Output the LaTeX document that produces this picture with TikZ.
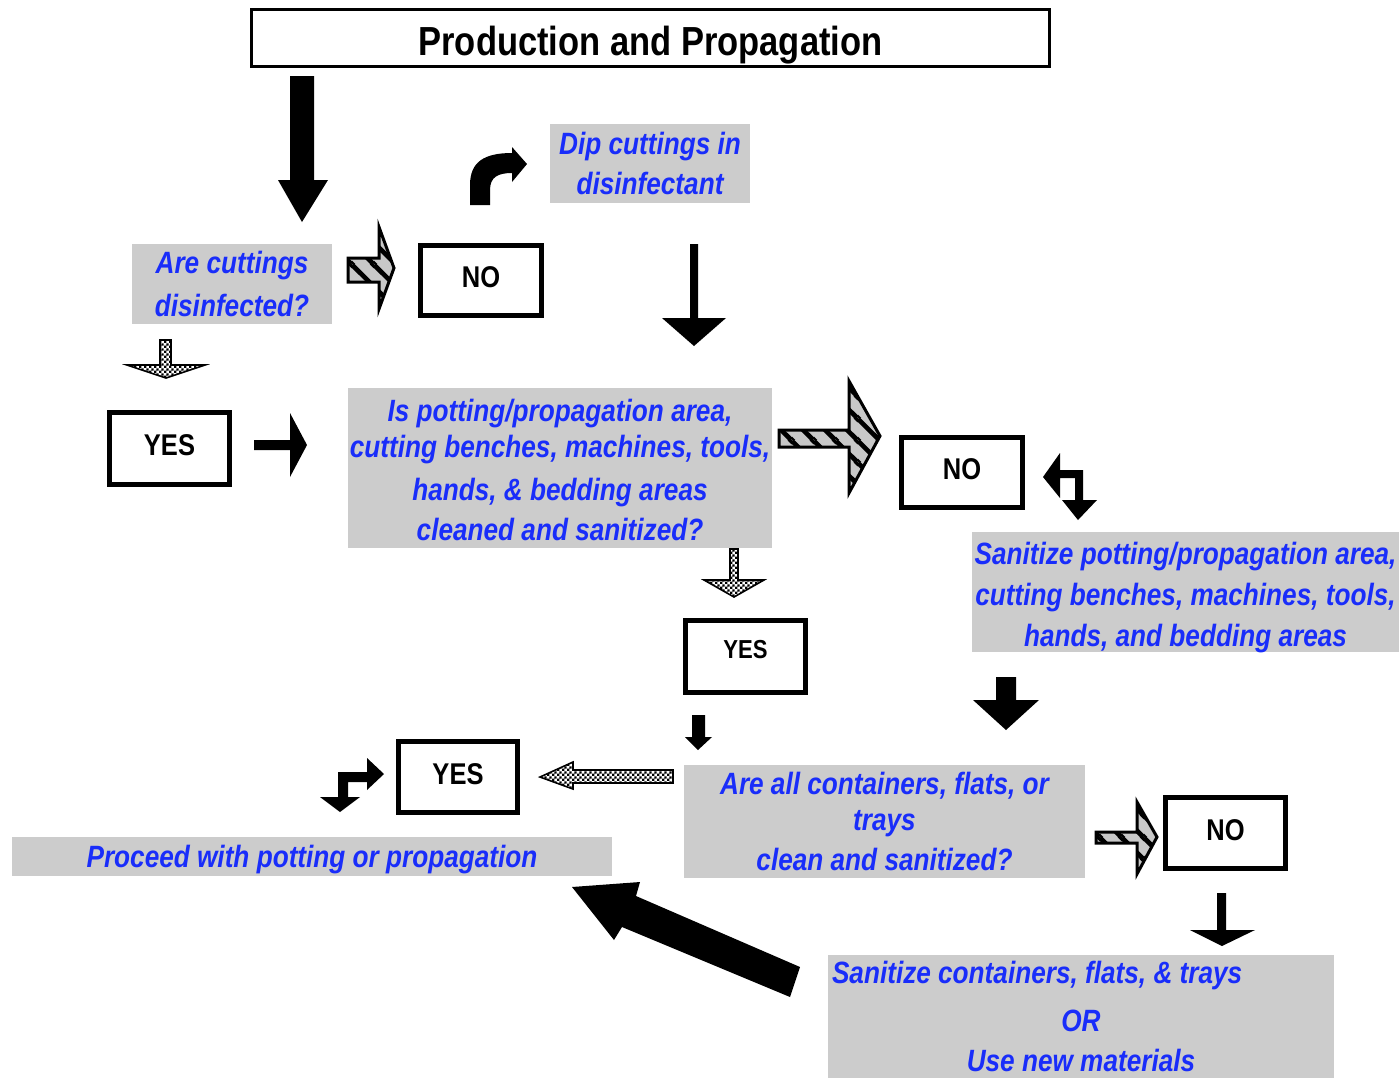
\documentclass[tikz,border=0pt]{standalone}
\usepackage{fontspec}
\setmainfont{Liberation Sans}[FakeStretch=0.85]
\usetikzlibrary{patterns.meta}
\definecolor{tblue}{RGB}{25,45,250}
\definecolor{bgray}{RGB}{204,204,204}
\definecolor{hgray}{RGB}{200,200,200}
\newcommand\shiftline[2]{\raisebox{#1}[\height][\depth]{#2}}
\tikzdeclarepattern{
  name=hstripes,
  type=uncolored,
  bottom left={(0pt,0pt)},
  top right={(11pt,11pt)},
  tile size={(11pt,11pt)},
  code={\draw[line width=2.4pt] (0pt,11pt)--(11pt,0pt) (-1pt,1pt)--(1pt,-1pt) (10pt,12pt)--(12pt,10pt);}
}
\tikzdeclarepattern{
  name=finechecker,
  type=uncolored,
  bottom left={(0pt,0pt)},
  top right={(2.4pt,2.4pt)},
  tile size={(2.4pt,2.4pt)},
  code={\fill (0pt,0pt) rectangle (1.2pt,1.2pt) (1.2pt,1.2pt) rectangle (2.4pt,2.4pt);}
}
\tikzset{
  gbox/.style={fill=bgray, inner sep=0pt, align=center, text=tblue,
    font=\fontsize{15.4}{20}\selectfont\bfseries\itshape},
  ansbox/.style={draw, line width=2.5pt, inner sep=0pt,
    font=\fontsize{15}{18}\selectfont\bfseries},
  solidarrow/.style={fill=black},
  hatcharrow/.style={preaction={fill=hgray}, preaction={pattern=hstripes, pattern color=black},
    draw, line width=1.5pt, line join=miter},
  checkarrow/.style={preaction={fill=white}, preaction={pattern=finechecker, pattern color=black},
    draw, line width=0.8pt, line join=miter}
}
\begin{document}
\begin{tikzpicture}[x=0.5pt, y=-0.5pt]
\useasboundingbox[fill=white] (0,0) rectangle (1399,1078);

% title
\node[draw, line width=1.5pt, inner sep=0pt, minimum width=399pt, minimum height=28.5pt,
  font=\fontsize{20.3}{22}\selectfont\bfseries] (title) at (650.5,38) {\shiftline{-3.5pt}{Production and Propagation}};

% gray question / action boxes
\node[gbox, minimum width=100pt, minimum height=40pt] (q1) at (232,284)
  {Are cuttings\\[1.5pt]disinfected?};
\node[gbox, minimum width=100pt, minimum height=39.5pt] (dip) at (650,163.5)
  {Dip cuttings in\\disinfectant};
\node[gbox, minimum width=212pt, minimum height=80pt] (q2) at (560,468)
  {\shiftline{-2pt}{Is potting/propagation area,}\\cutting benches, machines, tools,\\[1.5pt]hands, \& bedding areas\\cleaned and sanitized?};
\node[gbox, minimum width=213.5pt, minimum height=60pt] (san1) at (1185.5,592)
  {\shiftline{-2.5pt}{Sanitize potting/propagation area,}\\\shiftline{-3pt}{cutting benches, machines, tools,}\\\shiftline{-3.5pt}{hands, and bedding areas}};
\node[gbox, minimum width=200.5pt, minimum height=56.5pt] (q3) at (884.5,821.5)
  {Are all containers, flats, or\\[-2pt]trays\\clean and sanitized?};
\node[gbox, minimum width=300pt, minimum height=19.5pt] (proc) at (312,856.5)
  {\shiftline{-1.5pt}{Proceed with potting or propagation}};
\node[gbox, minimum width=253pt, minimum height=61.5pt] (san2) at (1081,1016.5)
  {\makebox[249pt][l]{Sanitize containers, flats, \& trays}\\[4pt]OR\\Use new materials};

% answer boxes
\node[ansbox, minimum width=60.5pt, minimum height=35pt] (no1) at (481,280.5) {\shiftline{1.5pt}{NO}};
\node[ansbox, minimum width=60pt, minimum height=36pt] (yes1) at (169.5,448.5) {\shiftline{1.5pt}{YES}};
\node[ansbox, minimum width=60.5pt, minimum height=35pt] (no2) at (962,472.5) {\shiftline{1.5pt}{NO}};
\node[ansbox, minimum width=60pt, minimum height=36pt, font=\fontsize{13}{16}\selectfont\bfseries] (yes2) at (745.5,656.5) {\shiftline{3.5pt}{YES}};
\node[ansbox, minimum width=59.5pt, minimum height=35.5pt] (yes3) at (458,777) {\shiftline{1.5pt}{YES}};
\node[ansbox, minimum width=60pt, minimum height=35.5pt] (no3) at (1225.5,833) {\shiftline{1.5pt}{NO}};

% block arrows
% A1 big down from title
\fill[solidarrow] (290,76) -- (314,76) -- (314,180) -- (328,180) -- (302,222) -- (278,180) -- (290,180) -- cycle;
% A2 hatched right to NO
\path[hatcharrow] (348,258) -- (379,258) -- (379,227) -- (394,268) -- (379,309) -- (379,282) -- (348,282) -- cycle;
% A3 curved arrow
\fill[solidarrow] (470,205) -- (470,185) .. controls (470,162) and (484,153) .. (512,153) -- (512,147) -- (527,164)
  -- (512,182) -- (512,173) .. controls (498,173) and (490,177) .. (490,190) -- (490,205) -- cycle;
% A4 down from dip
\fill[solidarrow] (690,244) -- (698,244) -- (698,318) -- (726,318) -- (694,346) -- (662,318) -- (690,318) -- cycle;
% A5 checkered down to YES
\path[checkarrow] (160,340) -- (171,340) -- (171,365) -- (205,365) -- (166,378) -- (127,365) -- (160,365) -- cycle;
% A6 right from YES
\fill[solidarrow] (254,440) -- (290,440) -- (290,413) -- (307,445) -- (290,477) -- (290,450) -- (254,450) -- cycle;
% A7 big hatched right
\path[hatcharrow] (779,430) -- (849,430) -- (849,381) -- (880,436) -- (849,493) -- (849,447) -- (779,447) -- cycle;
% A8 two-way arrow
\fill[solidarrow] (1043,477) -- (1060,453) -- (1060,470) -- (1083,470) -- (1083,500) -- (1097,500) -- (1078,520)
  -- (1062,500) -- (1075,500) -- (1075,478) -- (1060,478) -- (1060,498) -- cycle;
% A9 down from sanitize
\fill[solidarrow] (996,677) -- (1016,677) -- (1016,700) -- (1039,700) -- (1006,730) -- (973,700) -- (996,700) -- cycle;
% A10 checkered down to YES
\path[checkarrow] (730,549) -- (738,549) -- (738,580) -- (764,580) -- (734,597) -- (704,580) -- (730,580) -- cycle;
% A11 small down
\fill[solidarrow] (692,715) -- (705,715) -- (705,737) -- (712,737) -- (698,750) -- (685,737) -- (692,737) -- cycle;
% A12 checkered left
\path[checkarrow] (673,770) -- (573,770) -- (573,762) -- (540,777) -- (573,789) -- (573,783) -- (673,783) -- cycle;
% A13 right/down arrow
\fill[solidarrow] (384,774) -- (367,758) -- (367,772) -- (338,772) -- (338,797) -- (320,797) -- (340,812) -- (360,797)
  -- (348,797) -- (348,782) -- (367,782) -- (367,790) -- cycle;
% A14 hatched right to NO
\path[hatcharrow] (1096,832) -- (1137,832) -- (1137,802) -- (1157,837) -- (1137,874) -- (1137,843) -- (1096,843) -- cycle;
% A15 down from NO
\fill[solidarrow] (1217,893) -- (1226,893) -- (1226,930) -- (1255,930) -- (1222,946) -- (1190,930) -- (1217,930) -- cycle;
% A16 big diagonal arrow
\fill[solidarrow] (572,887) -- (640,882) -- (636,896) -- (800,967) -- (790,997) -- (622,927) -- (614,940) -- cycle;
\end{tikzpicture}
\end{document}
